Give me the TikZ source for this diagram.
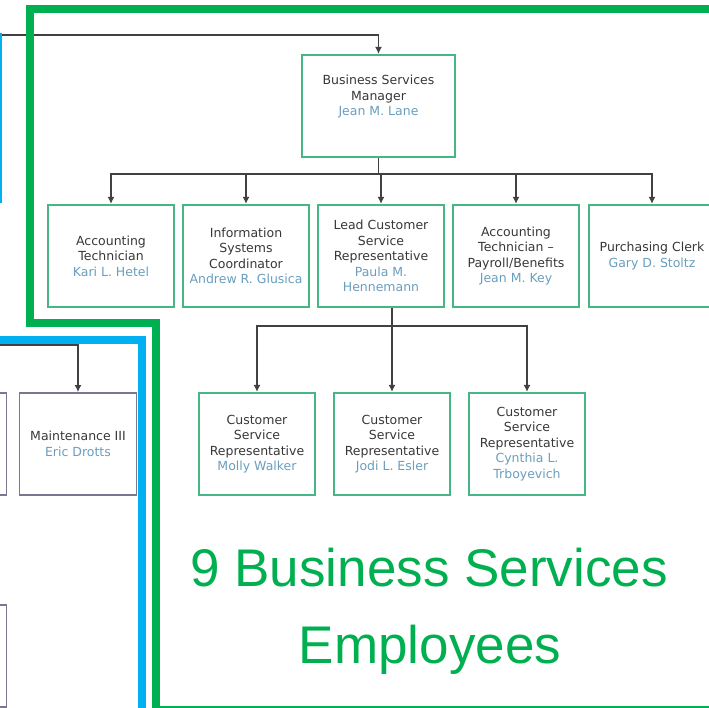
\documentclass[tikz,border=0pt]{standalone}
\usepackage{fontspec}
\setmainfont{DejaVu Sans}
\newfontfamily\bigfont{Liberation Sans}
\usetikzlibrary{arrows.meta}
\definecolor{outgreen}{RGB}{0,176,80}
\definecolor{outblue}{RGB}{0,176,240}
\definecolor{boxgreen}{RGB}{70,182,132}
\definecolor{boxgray}{RGB}{125,118,145}
\definecolor{titlegray}{RGB}{55,55,55}
\definecolor{namecol}{RGB}{105,158,190}
\definecolor{linegray}{RGB}{65,65,65}
\newcommand{\staffname}[1]{\textcolor{namecol}{#1}}

\begin{document}
\begin{tikzpicture}[x=1pt,y=-1pt,
    every node/.style={font=\fontsize{12.5}{15.5}\selectfont,text=titlegray,align=center,inner sep=0pt},
    staff/.style={draw=boxgreen,line width=2.2pt,minimum width=126pt,minimum height=102pt},
    csr/.style={staff,minimum width=116pt},
    oldbox/.style={draw=boxgray,line width=1.8pt,minimum width=117pt,minimum height=102pt},
    link/.style={draw=linegray,line width=1.9pt,-{Latex[length=7pt,width=7pt]}},
    bigtext/.style={font=\bigfont\fontsize{53}{64}\selectfont,text=outgreen,anchor=base}]
    \useasboundingbox (0,0) rectangle (709,707);

    % Manager
    \node[staff,minimum width=153pt] (bsm) at (378.5,106) {};
    \node (bsmtext) at (378.5,97) {Business Services\\Manager\\\staffname{Jean M. Lane}};

    % Second row
    \node[staff] (acct) at (111,256) {Accounting\\Technician\\\staffname{Kari L. Hetel}};
    \node[staff] (isc) at (246,256) {Information\\Systems\\Coordinator\\\staffname{Andrew R. Glusica}};
    \node[staff] (lcsr) at (381,256) {Lead Customer\\Service\\Representative\\\staffname{Paula M.}\\\staffname{Hennemann}};
    \node[staff] (acpb) at (516,256) {Accounting\\Technician --\\Payroll/Benefits\\\staffname{Jean M. Key}};
    \node[staff] (pclerk) at (652,256) {Purchasing Clerk\\\staffname{Gary D. Stoltz}};

    % Customer service row
    \node[csr] (csr1) at (257,444) {Customer\\Service\\Representative\\\staffname{Molly Walker}};
    \node[csr] (csr2) at (392,444) {Customer\\Service\\Representative\\\staffname{Jodi L. Esler}};
    \node[csr] (csr3) at (527,444) {Customer\\Service\\Representative\\\staffname{Cynthia L.}\\\staffname{Trboyevich}};

    % Neighbouring chart
    \node[oldbox] (maint) at (78,444) {Maintenance III\\\staffname{Eric Drotts}};
    \node[oldbox] (prevbox) at (-52,444) {};
    \node[oldbox] (lowbox) at (-52,656) {};

    % Connectors
    \coordinate (feed) at (0,35);
    \coordinate (maintfeed) at (0,345);
    \draw[link] (feed) -| (bsm.north);
    \foreach \n in {acct,isc,lcsr,acpb,pclerk}
        \draw[link] (bsm.south) -- ++(0,16) -| (\n.north);
    \foreach \n in {csr1,csr2,csr3}
        \draw[link] (lcsr.south -| csr2.north) -- ++(0,18) -| (\n.north);
    \draw[link] (maintfeed) -| (maint.north);

    % Outlines
    \draw[outgreen,line width=8pt] (30,9) -- (720,9) -- (720,710) -- (155.5,710) -- (155.5,323) -- (30,323) -- cycle;
    \draw[outblue,line width=7.5pt] (-10,340) -- (142,340) -- (142,720);
    \draw[outblue,line width=6pt] (-1.5,33) -- (-1.5,203);

    % Caption
    \node[bigtext] (bigone) at (429,586) {9 Business Services};
    \node[bigtext] (bigtwo) at (430,663) {Employees};
\end{tikzpicture}
\end{document}
